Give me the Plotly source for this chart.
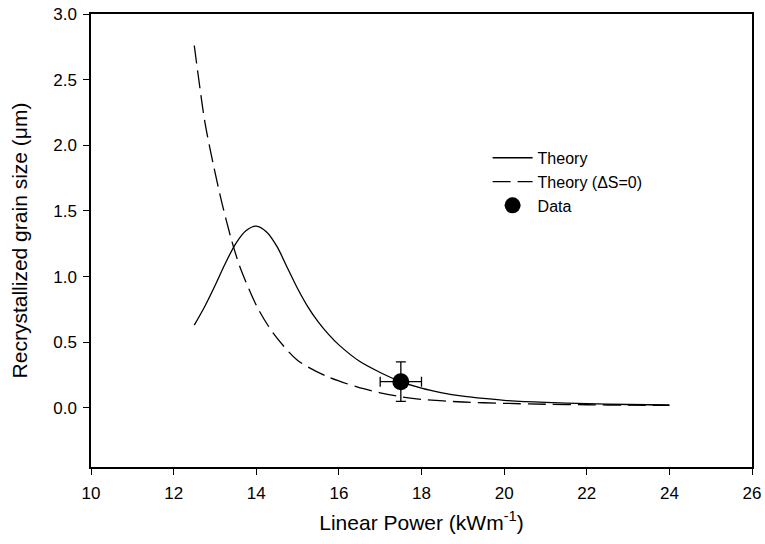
import plotly.graph_objects as go

# Curba teoretica (linie continua)
theory_x = [12.5, 12.75, 13.0, 13.25, 13.5, 13.75, 14.0, 14.25, 14.5, 14.75, 15.0, 15.25,
            15.5, 15.75, 16.0, 16.5, 17.0, 17.5, 18.0, 18.5, 19.0, 19.5, 20.0, 21.0,
            22.0, 23.0, 24.0]
theory_y = [0.63, 0.77, 0.93, 1.10, 1.25, 1.35, 1.385, 1.34, 1.23, 1.07, 0.91, 0.77,
            0.655, 0.56, 0.48, 0.355, 0.27, 0.20, 0.15, 0.115, 0.09, 0.072, 0.058, 0.042,
            0.032, 0.026, 0.022]

# Curba teoretica cu dS=0 (linie intrerupta)
theory0_x = [12.5, 12.76, 12.95, 13.17, 13.4, 13.61, 14.02, 14.41, 14.99, 15.71, 16.44,
             17.0, 17.5, 18.0, 19.0, 20.0, 21.0, 22.0, 23.0, 24.0]
theory0_y = [2.76, 2.17, 1.87, 1.56, 1.28, 1.07, 0.77, 0.57, 0.365, 0.24, 0.16,
             0.115, 0.085, 0.065, 0.045, 0.035, 0.028, 0.024, 0.021, 0.02]

# Punctul experimental
data_x = [17.5]
data_y = [0.20]
data_xerr = [0.5]
data_yerr = [0.15]

FONT = 'Liberation Sans, Arial, sans-serif'

fig = go.Figure()

fig.add_trace(go.Scatter(
    x=theory_x, y=theory_y, mode='lines', name='Theory',
    line=dict(color='black', width=1.3, shape='spline', smoothing=0.8),
))
fig.add_trace(go.Scatter(
    x=theory0_x, y=theory0_y, mode='lines', name='Theory (ΔS=0)',
    line=dict(color='black', width=1.3, dash='18px,7px', shape='spline', smoothing=0.8),
))
fig.add_trace(go.Scatter(
    x=data_x, y=data_y, mode='markers', name='Data',
    marker=dict(color='black', size=17),
    error_x=dict(type='data', array=data_xerr, color='black', thickness=1.3, width=5),
    error_y=dict(type='data', array=data_yerr, color='black', thickness=1.3, width=5),
))

fig.update_layout(
    width=765, height=544,
    paper_bgcolor='white', plot_bgcolor='white',
    margin=dict(l=91, r=13, t=14, b=77),
    font=dict(family=FONT, color='black', size=17),
    legend=dict(
        x=0.60, y=0.72, xanchor='left', yanchor='top',
        bgcolor='rgba(0,0,0,0)', font=dict(size=16),
        tracegroupgap=0, itemwidth=40,
    ),
)

fig.update_xaxes(
    range=[10, 26], dtick=2, tick0=10, automargin=False,
    showline=True, linecolor='black', linewidth=1.5, mirror=True,
    ticks='outside', ticklen=6, tickcolor='black', showgrid=False, zeroline=False,
    ticklabelstandoff=4, ticklabeloverflow='allow',
    title=dict(text='Linear Power (kWm<sup>-1</sup>)', font=dict(size=21), standoff=13),
)
fig.update_yaxes(
    range=[-0.45, 3.0], tickvals=[0, 0.5, 1.0, 1.5, 2.0, 2.5, 3.0], tickformat='.1f',
    automargin=False,
    showline=True, linecolor='black', linewidth=1.5, mirror=True,
    ticks='outside', ticklen=6, tickcolor='black', showgrid=False, zeroline=False,
    ticklabelstandoff=3, ticklabeloverflow='allow',
    title=dict(text='Recrystallized grain size (μm)', font=dict(size=21), standoff=20),
)

# fara marginea implicita a paginii, fara scrollbar si fara modebar
fig.write_html('out.html', config={'displayModeBar': False},
               post_script="document.body.style.margin='0';"
                           "document.body.style.overflow='hidden';")
